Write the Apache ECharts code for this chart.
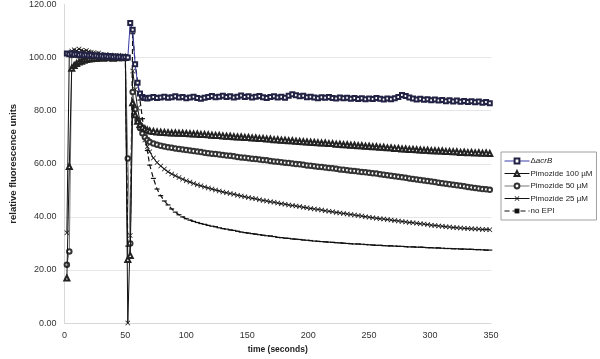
<!DOCTYPE html>
<html>
<head>
<meta charset="utf-8">
<script src="https://cdn.jsdelivr.net/npm/echarts@6/dist/echarts.min.js"></script>
<style>
    html, body { margin: 0; padding: 0; background: #fff; }
    #chart { width: 600px; height: 359px; }
</style>
</head>
<body>
<div id="chart"></div>
<script>
// time points (seconds)
const times = [
    2, 4, 6, 8, 10, 12, 14, 16, 18, 20, 22, 24, 26, 28, 30, 32, 34, 36, 38, 40, 42, 44, 46, 48, 50,
    52, 54, 56, 58, 60, 62, 64, 66, 68, 70,
    73, 76, 79, 82, 85, 88, 91, 94, 97, 100,
    103, 106, 109, 112, 115, 118, 121, 124, 127, 130,
    133, 136, 139, 142, 145, 148, 151, 154, 157, 160,
    163, 166, 169, 172, 175, 178, 181, 184, 187, 190,
    193, 196, 199, 202, 205, 208, 211, 214, 217, 220,
    223, 226, 229, 232, 235, 238, 241, 244, 247, 250,
    253, 256, 259, 262, 265, 268, 271, 274, 277, 280,
    283, 286, 289, 292, 295, 298, 301, 304, 307, 310,
    313, 316, 319, 322, 325, 328, 331, 334, 337, 340,
    343, 346, 349
]

const acrB = [
    101.5, 101.3, 101.6, 101.2, 101.4, 101.0, 101.3, 100.9, 101.1, 100.8, 101.0, 100.6, 100.8, 100.5, 100.7, 100.4, 100.6, 100.3, 100.5, 100.2, 100.4, 100.1, 100.3, 100.0, 100.2,
    100.0, 113.0, 110.5, 97.5, 90.5, 86.5, 85.2, 84.8, 84.6, 84.9,
    85.2, 84.8, 85.0, 85.3, 84.9, 85.1, 85.4, 85.0, 85.2, 84.7,
    85.0, 85.3, 84.8, 84.5, 84.9, 85.2, 85.5, 85.1, 85.3, 85.6,
    85.2, 85.4, 85.0, 85.3, 85.7, 85.2, 85.4, 85.0, 85.3, 85.5,
    85.1, 84.8, 85.2, 85.4, 85.0, 85.3, 84.9, 85.6, 86.2, 85.8,
    85.4, 85.6, 85.1, 85.3, 85.0, 84.7, 85.1, 84.9, 85.2, 84.8,
    84.6, 85.0, 84.7, 84.9, 84.5, 84.8, 84.4, 84.7, 84.3, 84.6,
    84.4, 84.8, 84.5, 84.2, 84.6, 84.3, 84.7, 85.2, 85.9, 85.5,
    85.0, 84.6, 84.2, 84.5, 84.1, 84.3, 83.9, 84.2, 83.8, 84.0,
    83.6, 83.9, 83.5, 83.8, 83.4, 83.7, 83.3, 83.6, 83.2, 83.5,
    83.0, 83.3, 82.8
]

const pim100 = [
    17.0, 59.0, 96.0, 97.0, 97.8, 98.3, 98.6, 99.0, 99.3, 99.5, 99.6, 99.8, 99.7, 99.9, 100.0, 99.8, 100.1, 99.9, 100.0, 99.8, 100.0, 99.9, 100.1, 99.9, 100.0,
    24.0, 25.5, 83.0, 78.5, 76.0, 74.8, 73.8, 73.2, 72.7, 72.4,
    72.2, 72.0, 71.9, 71.8, 71.7, 71.6, 71.6, 71.5, 71.5, 71.4,
    71.3, 71.2, 71.2, 71.0, 71.0, 70.9, 70.8, 70.7, 70.7, 70.5,
    70.4, 70.4, 70.2, 70.1, 70.1, 69.9, 69.9, 69.7, 69.7, 69.5,
    69.5, 69.3, 69.3, 69.1, 69.1, 68.9, 68.9, 68.7, 68.7, 68.5,
    68.4, 68.3, 68.2, 68.1, 68.0, 67.9, 67.8, 67.8, 67.6, 67.6,
    67.4, 67.4, 67.2, 67.2, 67.0, 67.0, 66.8, 66.8, 66.6, 66.6,
    66.4, 66.4, 66.2, 66.2, 66.0, 66.0, 65.8, 65.8, 65.6, 65.6,
    65.4, 65.4, 65.3, 65.2, 65.1, 65.1, 64.9, 64.9, 64.8, 64.8,
    64.6, 64.6, 64.5, 64.5, 64.3, 64.4, 64.2, 64.3, 64.1, 64.2,
    64.0, 64.1, 63.9
]

const pim50 = [
    22.0, 27.0, 101.0, 101.2, 101.0, 100.8, 101.0, 100.7, 100.9, 100.6, 100.8, 100.5, 100.6, 100.4, 100.5, 100.3, 100.4, 100.2, 100.3, 100.1, 100.2, 100.0, 100.1, 99.9, 100.0,
    62.0, 30.0, 87.0, 80.5, 76.5, 73.5, 71.5, 70.0, 69.0, 68.2,
    67.6, 67.2, 66.8, 66.5, 66.2, 66.0, 65.8, 65.6, 65.4, 65.2,
    65.0, 64.8, 64.6, 64.4, 64.2, 64.0, 63.8, 63.7, 63.5, 63.3,
    63.1, 63.0, 62.8, 62.6, 62.4, 62.3, 62.1, 61.9, 61.8, 61.6,
    61.4, 61.3, 61.1, 60.9, 60.8, 60.6, 60.4, 60.3, 60.1, 59.9,
    59.8, 59.6, 59.4, 59.3, 59.1, 58.9, 58.8, 58.6, 58.4, 58.3,
    58.1, 57.9, 57.8, 57.6, 57.4, 57.3, 57.1, 56.9, 56.8, 56.6,
    56.4, 56.3, 56.1, 55.9, 55.7, 55.5, 55.3, 55.1, 54.9, 54.7,
    54.5, 54.3, 54.1, 53.9, 53.7, 53.5, 53.3, 53.1, 52.9, 52.7,
    52.5, 52.3, 52.1, 51.9, 51.7, 51.5, 51.3, 51.1, 50.9, 50.7,
    50.5, 50.4, 50.2
]

const pim25 = [
    34.0, 101.5, 102.5, 103.0, 102.6, 103.2, 102.8, 102.4, 102.7, 102.2, 102.0, 101.8, 101.5, 101.7, 101.3, 101.0, 101.2, 100.8, 101.0, 100.6, 100.7, 100.4, 100.5, 100.2, 100.0,
    0.0, 33.0, 95.0, 88.0, 81.0, 76.0, 72.0, 69.0, 66.5, 64.5,
    62.2, 60.5, 59.2, 58.0, 57.0, 56.2, 55.5, 54.8, 54.2, 53.6,
    53.1, 52.6, 52.1, 51.7, 51.3, 50.9, 50.5, 50.1, 49.8, 49.4,
    49.1, 48.8, 48.5, 48.2, 47.9, 47.6, 47.3, 47.0, 46.8, 46.5,
    46.2, 46.0, 45.7, 45.5, 45.2, 45.0, 44.8, 44.5, 44.3, 44.1,
    43.9, 43.6, 43.4, 43.2, 43.0, 42.8, 42.6, 42.3, 42.1, 41.9,
    41.7, 41.5, 41.3, 41.1, 40.9, 40.7, 40.5, 40.3, 40.1, 39.9,
    39.7, 39.5, 39.3, 39.2, 39.0, 38.8, 38.6, 38.5, 38.3, 38.1,
    37.9, 37.8, 37.6, 37.4, 37.3, 37.1, 36.9, 36.8, 36.6, 36.5,
    36.3, 36.2, 36.0, 35.9, 35.8, 35.7, 35.6, 35.5, 35.4, 35.4,
    35.3, 35.3, 35.2
]

const noEpi = [
    100.8, 100.9, 101.0, 100.8, 100.9, 100.7, 100.8, 100.6, 100.7, 100.5, 100.6, 100.4, 100.5, 100.3, 100.4, 100.2, 100.3, 100.1, 100.2, 100.0, 100.1, 99.9, 100.0, 99.8, 99.6,
    29.0, 30.0, 109.0, 98.0, 91.0, 84.0, 77.0, 70.0, 65.0, 59.5,
    54.5, 50.5, 48.0, 46.0, 44.5, 43.0, 41.8, 40.8, 40.0, 39.3,
    38.8, 38.3, 37.9, 37.5, 37.2, 36.8, 36.5, 36.3, 35.9, 35.6,
    35.4, 35.1, 34.9, 34.6, 34.3, 34.1, 33.9, 33.7, 33.5, 33.3,
    33.1, 32.9, 32.8, 32.6, 32.3, 32.2, 32.0, 31.9, 31.7, 31.6,
    31.5, 31.3, 31.2, 31.1, 30.9, 30.8, 30.7, 30.6, 30.5, 30.4,
    30.3, 30.2, 30.1, 30.0, 29.9, 29.8, 29.8, 29.7, 29.6, 29.5,
    29.4, 29.3, 29.3, 29.2, 29.1, 29.1, 29.0, 28.9, 28.9, 28.8,
    28.7, 28.7, 28.6, 28.6, 28.5, 28.4, 28.4, 28.3, 28.3, 28.2,
    28.1, 28.1, 28.0, 28.0, 27.9, 27.9, 27.8, 27.8, 27.7, 27.7,
    27.6, 27.5, 27.5
]

const seriesNames = ['ΔacrB', 'Pimozide 100 µM', 'Pimozide 50 µM', 'Pimozide 25 µM', 'no EPI']

const crossPath = 'path://M0,1L1,0L5,4L9,0L10,1L6,5L10,9L9,10L5,6L1,10L0,9L4,5Z'
const dashPath = 'path://M0,0H10V2H0Z'

const pairs = vals => times.map((t, i) => [t, vals[i]])

const font = 'Liberation Sans, Arial, sans-serif'

const option = {
    animation: false,
    backgroundColor: '#fff',
    textStyle: { fontFamily: font },
    grid: {
        left: 44,
        right: 109,
        top: 4,
        bottom: 31
    },
    legend: {
        orient: 'vertical',
        left: 501,
        top: 152,
        padding: [5, 4, 5, 3],
        itemGap: 4.5,
        itemWidth: 25,
        itemHeight: 6,
        borderColor: '#a0a0a0',
        borderWidth: 1,
        lineStyle: { width: 1 },
        itemStyle: { borderWidth: 0.8 },
        data: seriesNames,
        formatter: name => name === 'ΔacrB' ? '{d|Δ}{i|acrB}' : name,
        textStyle: {
            fontFamily: font,
            fontSize: 8,
            color: '#222',
            padding: [0, 0, 0, -4],
            rich: {
                d: { fontFamily: font, fontSize: 8, color: '#222' },
                i: { fontFamily: font, fontSize: 8, color: '#222', fontStyle: 'italic' }
            }
        }
    },
    xAxis: {
        type: 'value',
        min: 0,
        max: 350,
        interval: 50,
        name: 'time (seconds)',
        nameLocation: 'middle',
        nameGap: 21,
        nameTextStyle: { fontFamily: font, fontSize: 8.5, fontWeight: 'bold', color: '#222' },
        axisLine: { lineStyle: { color: '#d8d8d8' } },
        axisTick: { show: false },
        axisLabel: { fontFamily: font, fontSize: 9, color: '#333', margin: 8 },
        splitLine: { show: false }
    },
    yAxis: {
        type: 'value',
        min: 0,
        max: 120,
        interval: 20,
        name: 'relative fluorescence units',
        nameLocation: 'middle',
        nameGap: 35,
        nameTextStyle: { fontFamily: font, fontSize: 9.5, fontWeight: 'bold', color: '#222' },
        axisLine: { show: true, lineStyle: { color: '#d8d8d8' } },
        axisTick: { show: false },
        axisLabel: {
            fontFamily: font,
            fontSize: 9,
            color: '#333',
            margin: 8,
            formatter: v => v.toFixed(2)
        },
        splitLine: {
            lineStyle: {
                color: ['#e6e6e6', '#e6e6e6', '#e6e6e6', '#e6e6e6', '#e6e6e6', '#e6e6e6', 'rgba(0,0,0,0)']
            }
        }
    },
    series: [
        {
            name: seriesNames[4],
            type: 'line',
            data: pairs(noEpi),
            symbol: dashPath,
            symbolSize: [5, 1.2],
            lineStyle: { color: '#111', width: 1.2, type: [5, 3] },
            itemStyle: { color: '#111' },
            z: 2
        },
        {
            name: seriesNames[3],
            type: 'line',
            data: pairs(pim25),
            symbol: crossPath,
            symbolSize: 5,
            lineStyle: { color: '#111', width: 1 },
            itemStyle: { color: '#111' },
            z: 3
        },
        {
            name: seriesNames[2],
            type: 'line',
            data: pairs(pim50),
            symbol: 'emptyCircle',
            symbolSize: 4.5,
            lineStyle: { color: '#777', width: 1 },
            itemStyle: { color: '#333', borderWidth: 0.8 },
            z: 4
        },
        {
            name: seriesNames[1],
            type: 'line',
            data: pairs(pim100),
            symbol: 'emptyTriangle',
            symbolSize: 5,
            lineStyle: { color: '#111', width: 1 },
            itemStyle: { color: '#222', borderWidth: 0.7 },
            z: 5
        },
        {
            name: seriesNames[0],
            type: 'line',
            data: pairs(acrB),
            symbol: 'emptyRect',
            symbolSize: 4,
            lineStyle: { color: '#3c3ca8', width: 1 },
            itemStyle: { color: '#222244', borderWidth: 0.9 },
            z: 6
        }
    ]
}

const myChart = echarts.init(document.getElementById('chart'))
myChart.setOption(option)
</script>
</body>
</html>
